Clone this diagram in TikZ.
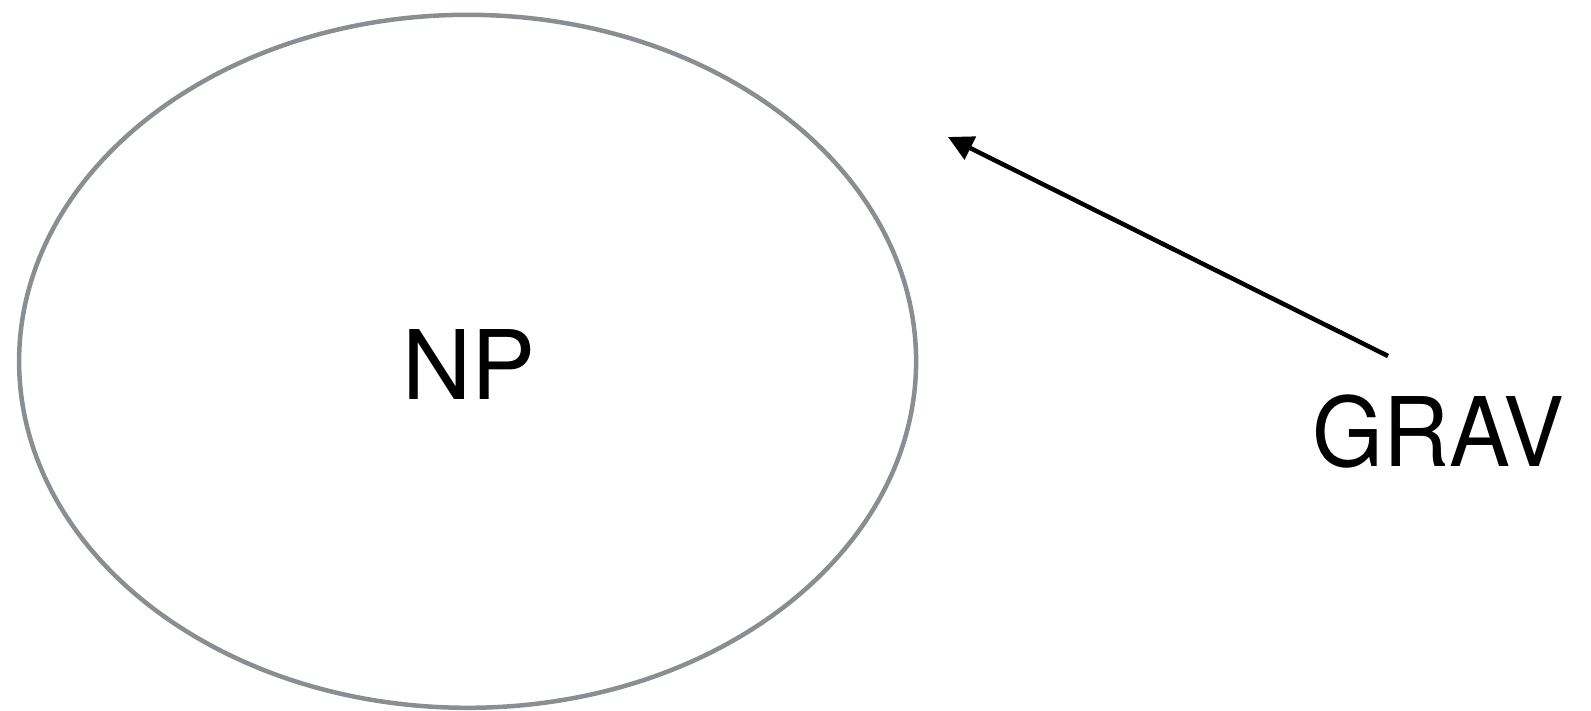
\documentclass[tikz,border=0pt]{standalone}
\usepackage{fontspec}
\setmainfont{TeX Gyre Heros}
\usetikzlibrary{shapes.geometric,arrows.meta}
\definecolor{ringgray}{HTML}{8A8D91}
\tikzset{
  ring/.style={ellipse, draw=ringgray, line width=4.5pt, inner sep=0pt,
    minimum width=897pt, minimum height=693pt},
  bigtext/.style={font=\fontsize{96}{100}\selectfont, inner sep=0pt},
  pointer/.style={line width=4.5pt, -{Triangle[length=25pt,width=25pt]}}
}
\begin{document}
\begin{tikzpicture}[x=1pt,y=-1pt]
  \useasboundingbox (0,0) rectangle (1591,710);
  \node[ring] (np) at (467.6,361.3) {};
  \node[bigtext] (nplabel) at (469,364.5) {NP};
  \node[bigtext, xscale=0.95] (grav) at (1438,432) {GRAV};
  \coordinate (tail) at (1388,356);
  \coordinate (tip) at (948,137);
  \draw[pointer] (tail) -- (tip);
\end{tikzpicture}
\end{document}
